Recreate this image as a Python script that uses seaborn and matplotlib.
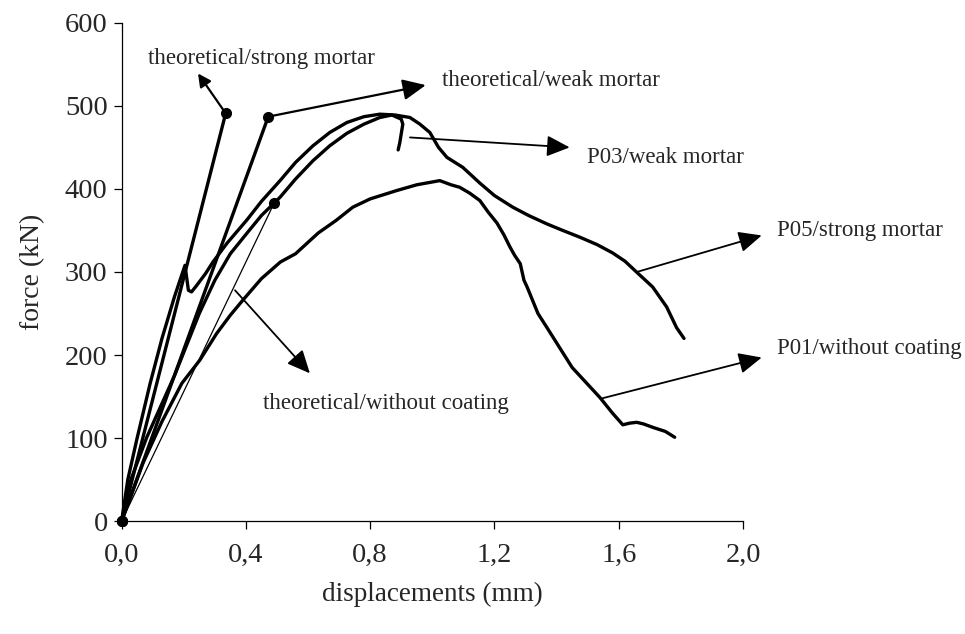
import matplotlib
matplotlib.use("Agg")
import matplotlib.pyplot as plt
import seaborn as sns
import pandas as pd

# ---- data ----
theo_strong_x = [0.0, 0.335]
theo_strong_y = [0.0, 491.0]
theo_weak_x = [0.0, 0.472]
theo_weak_y = [0.0, 487.0]
theo_nocoat_x = [0.0, 0.491]
theo_nocoat_y = [0.0, 383.0]

p05_x = [0.0, 0.02, 0.05, 0.092, 0.13, 0.17, 0.204, 0.215, 0.225, 0.24, 0.27, 0.294,
         0.34, 0.404, 0.45, 0.51, 0.56, 0.616, 0.67, 0.725, 0.78, 0.831, 0.88, 0.928,
         0.96, 0.992, 1.02, 1.047, 1.098, 1.153, 1.20, 1.259, 1.31, 1.368, 1.42, 1.474,
         1.53, 1.58, 1.62, 1.657, 1.709, 1.754, 1.786, 1.81]
p05_y = [0.0, 50, 100, 166, 220, 270, 308, 278, 276, 283, 298, 312,
         335, 363, 385, 410, 432, 452, 468, 480, 487, 490, 489, 486,
         478, 468, 450, 438, 426, 407, 392, 378, 368, 358, 350, 342,
         333, 323, 313, 300, 282, 258, 233, 220]

p03_x = [0.0, 0.03, 0.08, 0.17, 0.25, 0.30, 0.35, 0.404, 0.45, 0.51, 0.56, 0.616,
         0.67, 0.725, 0.78, 0.831, 0.87, 0.90, 0.905, 0.895, 0.89]
p03_y = [0.0, 50, 100, 175, 250, 290, 322, 347, 368, 390, 412, 434,
         452, 467, 478, 486, 489, 484, 478, 455, 447]

p01_x = [0.0, 0.03, 0.069, 0.13, 0.194, 0.252, 0.306, 0.35, 0.39, 0.45, 0.511, 0.56,
         0.633, 0.69, 0.744, 0.80, 0.885, 0.95, 1.024, 1.06, 1.088, 1.12, 1.153, 1.18,
         1.208, 1.23, 1.25, 1.265, 1.283, 1.295, 1.305, 1.34, 1.369, 1.45, 1.539, 1.58,
         1.613, 1.635, 1.658, 1.68, 1.709, 1.75, 1.78]
p01_y = [0.0, 30, 70, 120, 166, 194, 226, 248, 266, 292, 312, 322,
         347, 362, 378, 388, 398, 405, 410, 405, 402, 395, 386, 372,
         359, 345, 330, 320, 310, 290, 282, 250, 233, 185, 149, 130,
         116, 118, 119, 117, 113, 108, 101]

x_ticks = [0.0, 0.4, 0.8, 1.2, 1.6, 2.0]
x_tick_labels = ["0,0", "0,4", "0,8", "1,2", "1,6", "2,0"]
y_ticks = [0, 100, 200, 300, 400, 500, 600]

sns.set_style("ticks")
plt.rcParams["font.family"] = ["Liberation Serif", "DejaVu Serif"]

fig = plt.figure(figsize=(9.65, 6.34), dpi=100)
ax = fig.add_axes([0.126, 0.178, 0.644, 0.786])

exp_lw = 2.4
for xs, ys in [(p05_x, p05_y), (p03_x, p03_y), (p01_x, p01_y)]:
    df = pd.DataFrame({"x": xs, "y": ys})
    sns.lineplot(data=df, x="x", y="y", sort=False, estimator=None, color="black",
                 lw=exp_lw, ax=ax, clip_on=False)

for xs, ys, lw in [(theo_strong_x, theo_strong_y, 2.4), (theo_weak_x, theo_weak_y, 2.4),
                   (theo_nocoat_x, theo_nocoat_y, 0.9)]:
    df = pd.DataFrame({"x": xs, "y": ys})
    sns.lineplot(data=df, x="x", y="y", sort=False, estimator=None, color="black",
                 lw=lw, marker="o", markersize=8, markeredgewidth=0, ax=ax, clip_on=False)

ax.set_xlim(0, 2.0)
ax.set_ylim(0, 600)
ax.set_xticks(x_ticks)
ax.set_xticklabels(x_tick_labels)
ax.set_yticks(y_ticks)
ax.tick_params(axis="both", labelsize=20.5, length=6, width=0.9, color="black")
ax.tick_params(axis="x", pad=10)
ax.tick_params(axis="y", pad=4)
sns.despine(ax=ax)
for s in ["left", "bottom"]:
    ax.spines[s].set_linewidth(0.9)
    ax.spines[s].set_color("black")
ax.set_xlabel("displacements (mm)", fontsize=19.5, labelpad=10)
ax.set_ylabel("force (kN)", fontsize=20, labelpad=14)

# annotations
def arrow(start, tip, hl=0.7, hw=0.32, ms=20, lw=1.3):
    ax.annotate("", xy=tip, xytext=start, xycoords="data", annotation_clip=False,
                arrowprops=dict(arrowstyle=f"-|>,head_length={hl},head_width={hw}",
                                color="black", lw=lw, mutation_scale=ms,
                                shrinkA=0, shrinkB=0))

fs = 16.5
arrow((0.335, 491), (0.246, 539), hl=0.55, hw=0.28, ms=14, lw=1.6)
ax.text(0.085, 557, "theoretical/strong mortar", fontsize=fs, va="center", ha="left")
arrow((0.472, 487), (0.979, 525), lw=1.6)
ax.text(1.03, 531, "theoretical/weak mortar", fontsize=fs, va="center", ha="left")
arrow((0.928, 462), (1.442, 450))
ax.text(1.497, 438, "P03/weak mortar", fontsize=fs, va="center", ha="left")
arrow((1.658, 300), (2.06, 344))
ax.text(2.108, 350, "P05/strong mortar", fontsize=fs, va="center", ha="left")
arrow((1.548, 148), (2.06, 197))
ax.text(2.108, 208, "P01/without coating", fontsize=fs, va="center", ha="left")
arrow((0.365, 278), (0.606, 178))
ax.text(0.455, 142, "theoretical/without coating", fontsize=fs, va="center", ha="left")

fig.savefig("out.png", dpi=100)
